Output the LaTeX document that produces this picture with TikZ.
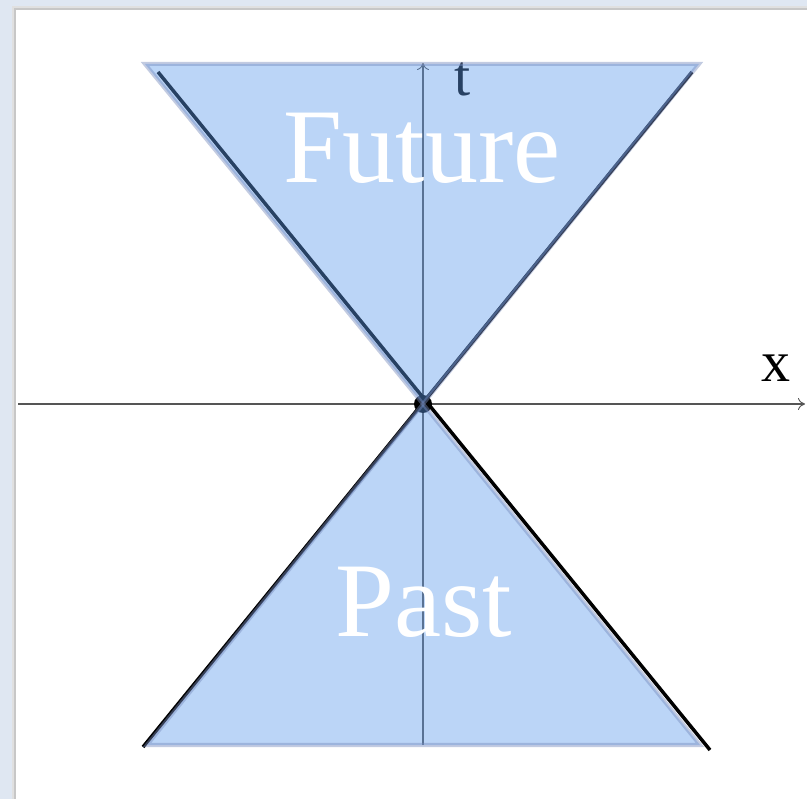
\documentclass[tikz,border=0pt]{standalone}
\usepackage{fontspec}
\setmainfont{Liberation Serif}
\usetikzlibrary{arrows.meta}
\definecolor{bgc}{RGB}{223,231,242}
\definecolor{conec}{RGB}{95,155,236}
\definecolor{edgec}{RGB}{120,140,190}
\definecolor{axisc}{RGB}{85,85,85}
\tikzset{
  axisline/.style={draw=axisc, line width=1.1pt, -{To[length=7pt,width=12pt,line width=0.9pt]}},
  coneline/.style={draw=black, line width=3.5pt},
  conefill/.style={fill=conec, fill opacity=0.42, draw=edgec, draw opacity=0.45, line width=4pt, line join=miter},
  bigtext/.style={text=white, inner sep=0pt, anchor=base, text height=72pt, text depth=0pt, font=\fontsize{106}{106}\selectfont},
  axlabel/.style={text=black, inner sep=0pt, anchor=base west, text depth=0pt, font=\fontsize{58}{58}\selectfont}
}
\begin{document}
\begin{tikzpicture}[x=1pt,y=-1pt]
\useasboundingbox (0,0) rectangle (807,799);
\fill[bgc] (0,0) rectangle (807,799);
\fill[black!12] (12,6) rectangle (807,799);
\fill[black!22] (14,8) rectangle (807,799);
\fill[white] (16,10) rectangle (807,799);
% coordinates
\coordinate (O) at (423,404);
\coordinate (xs) at (18,404);
\coordinate (xe) at (805,404);
\coordinate (ts) at (423,745);
\coordinate (te) at (423,63);
\coordinate (l1a) at (158,72);
\coordinate (l1b) at (710,750);
\coordinate (l2a) at (692,72);
\coordinate (l2b) at (143,747);
\coordinate (f1) at (145,64);
\coordinate (f2) at (699,64);
\coordinate (p1) at (147,745);
\coordinate (p2) at (700,745);
% axes
\draw[axisline] (xs) -- (xe);
\draw[axisline] (ts) -- (te);
% origin dot
\fill[black] (O) circle (9);
% light-cone lines
\draw[coneline] (l1a) -- (l1b);
\draw[coneline] (l2a) -- (l2b);
% t label (under the fill)
\node[axlabel] (tlab) at (454,96) {t};
% cones
\path[conefill] (f1) -- (f2) -- (O) -- cycle;
\path[conefill] (p1) -- (p2) -- (O) -- cycle;
% labels
\node[axlabel] (xlab) at (761,382) {x};
\node[bigtext] (fut) at (422,183) {Future};
\node[bigtext] (past) at (424,637) {Past};
\end{tikzpicture}
\end{document}
